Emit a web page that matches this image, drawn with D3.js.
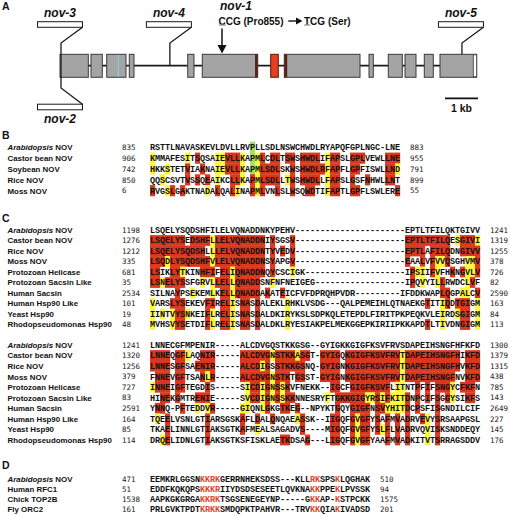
<!DOCTYPE html>
<html><head><meta charset="utf-8">
<script src="https://cdn.jsdelivr.net/npm/d3@7"></script>
<style>body{margin:0;background:#fff}svg{display:block}</style>
</head><body><svg id="c" width="510" height="516"></svg>
<script>
// ---------------- DATA ----------------
// Panel A: gene model (kb from gene start)
const exonKb = [[0,0.858],[0.939,1.282],[1.415,2.0],[2.1,2.242],[3.87,4.06],[4.312,5.991],[6.385,6.615],[6.797,9.091],[9.364,9.494],[9.948,10.373],[10.455,10.788],[11.039,11.312],[11.515,12.627]];
const exonType = ["g","g","g","g","g","g","r","g","g","g","g","g","g"];
const edgeMarksKb = [[5.91,5.991],[6.797,6.885]];
const cyanMarkKb = [1.767];
const utrKb = [[12.524,12.627]];
const insertNames = ["nov-3","nov-2","nov-4","nov-5"];
const insertKb = [0.03,0.03,3.33,12.18];
const insertSide = ["top","bottom","top","top"];
const nov1Kb = 4.909;
const scaleBarKb = [11.667,12.667];

// Panel B
const bNames = ["Arabidopsis NOV","Castor bean NOV","Soybean NOV","Rice NOV","Moss NOV"];
const bStarts = [835,906,742,850,6];
const bEnds = [883,955,791,899,55];
const bSeqs = [
 "RSTTLNAVASKEVLDVLLRVP"+"LLSDLNSWCHWDLRYAPQFGPLNGC-LNE",
 "KMMAFESITSQSAIEVLLKAP"+"MLCDLTSWSHWDLIFAPSLGPLVEWLLNE",
 "HKKSTETVIAKNAIEVLLKAP"+"MLSDLSKWSHWDLRFAPFLGPFISWLLND",
 "QQSCSVTVSSQEAIKCLLKAP"+"MLSDLLTWSHWDLLFAPSLGSFNHWLLNT",
 "RVGSLGAKTNADALQALINAP"+"MLVNLSLWSQWDTIFAPTLGPFLSWLERE"];
const bMasks = [
 ".........."+".........."+"g........."+".........."+"..........",
 "y......y.r"+"...yyrrry."+"gyr.rr.rr."+"rrrr.yrr.."+"rrr....rrr",
 "y..y...r.."+"r..yyrrry."+"gyrrrr..r."+"rrrrryrr.."+"rr.....rry",
 "..y....r.r"+".r.y..rry."+"ryrrrr.yr."+"rrrr.yrr.."+"r..r...rr.",
 "r..yr.r..."+".y.r..ry.."+"ryr..r..r."+".rr..yrr.."+"rr.......r"];

// Panel C
const cNames = ["Arabidopsis NOV","Castor bean NOV","Rice NOV","Moss NOV","Protozoan Helicase","Protozoan Sacsin Like","Human Sacsin","Human Hsp90 Like","Yeast Hsp90","Rhodopseudomonas Hsp90"];
const c1Starts = [1198,1276,1212,335,681,35,2534,101,19,48];
const c1Ends = [1241,1319,1255,378,726,82,2590,163,84,113];
const c1Seqs = [
 "LSQELYSQDSHFILELVQNADDNKYPEHV"+"----------"+"----------"+"--"+"EPTLTFILQKTGIVV",
 "LSQELYSEDSHFLLELVQNADDNIYSGSV"+"----------"+"----------"+"--"+"EPTLTFILQESGIVI",
 "LSQELYSQDSHLLLELVQNADDNTYVEDV"+"----------"+"----------"+"--"+"EPTLAFILQDNGIVV",
 "LSQDLYSQDSHFVLELVQNADDNSYAPGV"+"----------"+"----------"+"--"+"EAALVFVVQSGHVMV",
 "LSIKLYTKINHFIFELIQNADDNQYCSCIGK"+"----------"+"----------"+"IPSIIFVFHKNGVLV",
 "LSNELYSSFGRVLLELLQNADDSNFNFNEIGEG"+"----------"+"--------"+"IPQVYILLRWDCLVF",
 "SILNAYPSEKEMLKELLQNADDAKATEICFVFDPRQHPVDR"+"---------"+"IFDDKWAPLQGPALCV",
 "VARSLYSEKEVFIRELISNASDALEKLRHKLVSDG"+"---"+"QALPEMEIHLQTNAEKGTITIQDTGIGM",
 "IINTVYSNKEIFLRELISNASDALDKIRYKSLSDPKQLETEPDLFIRITPKPEQKVLEIRDSGIGM",
 "MVHSVYSETDIFLRELISNASDALDKLRYESIAKPELMEKGGEPKIRIIPKKAPDTLTIVDNGIGM"];
const c1Masks = [
 ".........."+".........."+".........."+".........."+".........."+".........."+"......",
 "rrrrrrr.rr"+"rryrrrrrrr"+"rrr.r...r."+".........."+".........."+".rrrrrrrrr"+".yrrry",
 "rrrrrrrrrr"+"r.yrrrrrrr"+"rrr.r.r.r."+".........."+".........."+".rrrr.rrrr"+"..rrrr",
 "rrryrrrrrr"+"rryrrrrrrr"+"rrr.r...r."+".........."+".........."+".r..r.ryyr"+"...yyr",
 "rr..rry..."+"rrr.rryrrr"+"rrr.r...y."+".........."+".........."+"..ryy.ry.."+"r.ryyr",
 "rryrrrr..."+"y.yrrryrrr"+"rr..y....."+".........."+".........."+"..r.y..yr."+"...yr.",
 ".....r..y."+"..y.rryrrr"+"rr.r..r..."+".........."+".........."+"........rr"+"..yy.r",
 "y...rrr..."+".rr.rry.rr"+".r.....y.."+".........."+".........."+".....r..yr"+".rrr.y",
 "y.y.yrry.."+".ry.rry.rr"+".r.....y.."+".........."+".........."+"........y."+".yrr.y",
 "y...yrr..."+".ry.rry.rr"+".r.....y.."+".........."+".........."+".....r..y."+"..rr.y"];
const c2Starts = [1241,1320,1256,379,727,83,2591,164,85,114];
const c2Ends = [1300,1379,1315,438,785,143,2649,227,145,176];
const c2Seqs = [
 "LNNECGFMPENIR-----ALCDVGQSTKKGSG--GYIGKKGIGFKSVFRVSDAPEIHSNGFHFKFD",
 "LNNEQGFLAQNIR-----ALCDVGNSTKKASGT-GYIGQKGIGFKSVFRVTDAPEIHSNGFHIKFD",
 "LNNESGFSAENIR-----ALCDIGSSTKKGSNQ-GYIGNKGIGFKSVFRVTDAPEIHSNGFHVKFD",
 "FNNEVGFTSANLR-----ALCDVGNSTKTGSST-GYIGNKGIGFKSVFRVTDAPEIHSNGFNVKFD",
 "INNEIGFTEGDIS-----SICDIGNSSKVFNEKK--IGCFGIGFKSVFLITNTPFIFSNGYCFKFN",
 "HINEKGMTRENIE-----SVCDIGNSSKKNNESRYFTGKKGIGYRSIFKITDNPCIFSGGYSIKFS",
 "YNNQ-PFTEDDVR-----GIQNLGKGTKEG--NPYKTGQYGIGFNSVYHITDCPSFISGNDILCIF",
 "TQEELVSNLGTIARSGSKAFLDALQNQAEASSK--IIGQFGVGFYSAFMVADRVEVYSRSAAPGSL",
 "TKAELINNLGTIAKSGTKAFMEALSAGADVS----MIGQFGVGFYSLFLVADRVQVISKSNDDEQY",
 "DRQELIDNLGTIAKSGTKSFISKLAETKDSAG---LIGQFGVGFYAAFMVADKITVTSRRAGSDDV"];
const c2Masks = [
 ".........."+".........."+".........."+".........."+".........."+".........."+"......",
 "rrrr.rry.."+"rrr.....rr"+"rrrryrrrry"+"rr..rrrr.r"+"rrrrrrrrrr"+"yrrrrrrrrr"+"rr.rrr",
 "rrrr.rr..r"+"rrr.....rr"+"rryr.rrrrr"+"r...rrrr.r"+"rrrrrrrrrr"+"yrrrrrrrrr"+"rr.rrr",
 ".rrr.rr..."+"ryr.....rr"+"rrrryrrr.r"+"r...rrrr.r"+"rrrrrrrrrr"+"yrrrrrrrrr"+"r..rrr",
 "yrrr.rr..."+".r.......y"+"rryryryr.."+"......rr.."+"rrrrrrrr.y"+"y..r.r.rrr"+"y.rrr.",
 "..rr.r...r"+"rr.......y"+"rryryryrr."+".....y.rrr"+"rrryyryryy"+"yr.r.r.r.r"+"y..rr.",
 ".rr...r..y"+".yr.....yy"+"..yr..rr.r"+".......r.."+"rrrr.rryyy"+"yr.r...r.."+"......",
 ".y.r......"+".r......r."+".r..r....y"+"r.....rr.."+"ryrr.r.r.r"+".r..ry.r.."+"......",
 "...r......"+".r......r."+".y........"+"r.....rr.."+"ryrr.ryr.r"+".r...y.r.."+"......",
 "..yr......"+".r........"+"......rr.."+".r....rr.."+"ryrr...r.r"+".r...y.r.."+"......"];

// Panel D
const dNames = ["Arabidopsis NOV","Human RFC1","Chick TOP2B","Fly ORC2"];
const dStarts = [471,51,1538,161];
const dEnds = [510,94,1575,201];
const dSeqs = [
 "EEMKRLGGSNKKRKGERRNHEKSDSS---KLLRKSPSKLQGHAK",
 "EDDFKQKQPSKKKRIIYDSDSESEETLQVKNAKKPPEKLPVSSK",
 "AAPKGKGRGAKKRKTSGSENEGEYNP-----GKKAP-KSTPCKK",
 "PRLGVKTPDTKRKKSMDQPKTPAHVR---TRVKKQIAKIVADSD"];
const dRedMask = "..........rrrr..................rr...r......";

// ---------------- DRAWING ----------------
const svg = d3.select("#c");
const SANS = "'Liberation Sans', Arial, Helvetica, sans-serif";
const MONO = "'Liberation Mono', 'Courier New', monospace";
const NUM = "'DejaVu Sans Mono', monospace";

// panel letters
const letters = [["A",9.5],["B",138.5],["C",221.7],["D",469.3]];
svg.selectAll("text.pl").data(letters).enter().append("text")
  .attr("x",2).attr("y",d=>d[1]).text(d=>d[0])
  .attr("font-family",SANS).attr("font-weight","bold").attr("font-size",10.5).attr("fill","#111");

// ---- Panel A ----
const kbX = d3.scaleLinear().domain([0,1]).range([60,93]);
const LINE_Y = 65.7, EX_TOP = 54.3, EX_H = 23;
const gA = svg.append("g");
gA.append("line").attr("x1",kbX(exonKb[0][0])).attr("x2",kbX(exonKb[exonKb.length-1][1]))
  .attr("y1",LINE_Y).attr("y2",LINE_Y).attr("stroke","#1a1a1a").attr("stroke-width",1.7);
gA.selectAll("rect.ex").data(exonKb).enter().append("rect")
  .attr("x",d=>kbX(d[0])).attr("width",d=>kbX(d[1])-kbX(d[0]))
  .attr("y",EX_TOP).attr("height",EX_H)
  .attr("fill",(d,i)=>exonType[i]==="r"?"#e2401f":"#a4a4a4")
  .attr("stroke",(d,i)=>exonType[i]==="r"?"#5e1a0e":"#3a3a3a").attr("stroke-width",1);
gA.selectAll("rect.em").data(edgeMarksKb).enter().append("rect")
  .attr("x",d=>kbX(d[0])).attr("width",d=>kbX(d[1])-kbX(d[0]))
  .attr("y",EX_TOP).attr("height",EX_H).attr("fill","#5a2216");
gA.selectAll("rect.utr").data(utrKb).enter().append("rect")
  .attr("x",d=>kbX(d[0])).attr("width",d=>kbX(d[1])-kbX(d[0]))
  .attr("y",EX_TOP+0.5).attr("height",EX_H-1).attr("fill","#fff").attr("stroke","#3a3a3a").attr("stroke-width",0.8);
gA.selectAll("line.cy").data(cyanMarkKb).enter().append("line")
  .attr("x1",d=>kbX(d)).attr("x2",d=>kbX(d)).attr("y1",EX_TOP+0.5).attr("y2",EX_TOP+EX_H-0.5)
  .attr("stroke","#7fd8e4").attr("stroke-width",1);

function inExon(k){return exonKb.some(e=>k>=e[0]&&k<=e[1]);}
insertNames.forEach((nm,i)=>{
  const x = kbX(insertKb[i]);
  const bw = 45, bh = 5.6;
  const bx = x - 23.5;
  const top = insertSide[i]==="top";
  const boxY = top ? 21.7 : 104.2;
  gA.append("rect").attr("x",bx).attr("y",boxY).attr("width",bw).attr("height",bh)
    .attr("fill","#fff").attr("stroke","#1a1a1a").attr("stroke-width",1);
  const geneY = (top && inExon(insertKb[i]) && insertKb[i]>1) ? EX_TOP : LINE_Y;
  const pts = top ? [[bx+bw,boxY+bh],[x,43],[x,geneY]] : [[x,LINE_Y],[x,88],[bx+bw,boxY]];
  gA.append("path").attr("d",d3.line()(pts)).attr("fill","none").attr("stroke","#1a1a1a").attr("stroke-width",1.3);
  gA.append("text").attr("x",bx+bw/2).attr("y",top?17.3:122.7).attr("text-anchor","middle")
    .attr("font-family",SANS).attr("font-weight","bold").attr("font-style","italic").attr("font-size",12)
    .attr("fill","#111").text(nm);
});
// nov-1
const x1 = kbX(nov1Kb);
gA.append("text").attr("x",x1-2).attr("y",10).attr("font-family",SANS).attr("font-weight","bold")
  .attr("font-style","italic").attr("font-size",12).attr("fill","#111").text("nov-1");
gA.append("line").attr("x1",x1).attr("x2",x1).attr("y1",28.5).attr("y2",46).attr("stroke","#111").attr("stroke-width",1.5);
gA.append("path").attr("d",`M${x1-4.5},45 L${x1+4.5},45 L${x1},53.5 Z`).attr("fill","#111");
gA.append("text").attr("x",218.5).attr("y",24.6).attr("font-family",SANS).attr("font-weight","bold")
  .attr("font-size",10).attr("fill","#111").text("CCG (Pro855)");
gA.append("line").attr("x1",288.3).attr("x2",297).attr("y1",21).attr("y2",21).attr("stroke","#111").attr("stroke-width",1.4);
gA.append("path").attr("d","M296,17.5 L296,24.5 L302.5,21 Z").attr("fill","#111");
gA.append("text").attr("x",304).attr("y",24.6).attr("font-family",SANS).attr("font-weight","bold")
  .attr("font-size",10).attr("fill","#111").text("TCG (Ser)");
gA.append("rect").attr("x",218.8).attr("y",24.4).attr("width",7).attr("height",1.3).attr("fill","#9a9a9a");
gA.append("rect").attr("x",304.2).attr("y",24.4).attr("width",6).attr("height",1.3).attr("fill","#9a9a9a");
// scale bar
gA.append("line").attr("x1",kbX(scaleBarKb[0])).attr("x2",kbX(scaleBarKb[1])).attr("y1",98.3).attr("y2",98.3)
  .attr("stroke","#111").attr("stroke-width",1.7);
gA.append("text").attr("x",(kbX(scaleBarKb[0])+kbX(scaleBarKb[1]))/2).attr("y",112.2).attr("text-anchor","middle")
  .attr("font-family",SANS).attr("font-weight","bold").attr("font-size",10.5).attr("fill","#111").text("1 kb");

// ---- Alignments ----
const colX = d3.scaleLinear().domain([0,1]).range([150,155]);
const shadeColor = {r:"#d9381e", y:"#fbf73a", g:"#9fe05e"};

function drawAlignment(names, starts, ends, seqs, masks, y0, step, opts={}) {
  const yS = d3.scaleLinear().domain([0,1]).range([y0, y0+step]);
  const g = svg.append("g");
  const ncol = seqs[0].length;
  const endX = colX(ncol) + 10;
  seqs.forEach((s,ri)=>{
    const yc = yS(ri);
    const m = masks ? masks[ri] : null;
    const cells = s.split("").map((ch,i)=>({ch,i,m: m ? m[i] : "."}));
    if (m) {
      g.selectAll(null).data(cells.filter(d=>shadeColor[d.m])).enter().append("rect")
        .attr("x",d=>colX(d.i)).attr("y",yc-step/2-0.15).attr("width",5.15).attr("height",step+0.3)
        .attr("fill",d=>shadeColor[d.m]);
    }
    g.selectAll(null).data(cells).enter().append("text")
      .attr("x",d=>colX(d.i)+2.5).attr("y",yc+2.9).attr("text-anchor","middle")
      .attr("font-family",MONO).attr("font-weight","bold").attr("font-size",8.5)
      .attr("fill",d=> (opts.redMask && opts.redMask[d.i]==="r") ? "#e2432a" : "#111")
      .text(d=>d.ch);
    // name
    const nt = g.append("text").attr("x",7.5).attr("y",yc+2.9).attr("font-family",SANS)
      .attr("font-weight","bold").attr("font-size",7.9).attr("fill","#111");
    const nm = names[ri];
    if (nm.startsWith("Arabidopsis ")) {
      nt.append("tspan").attr("font-style","italic").text("Arabidopsis");
      nt.append("tspan").text(nm.slice(11));
    } else nt.text(nm);
    g.append("text").attr("x",122).attr("y",yc+2.7).attr("font-family",NUM).attr("font-size",7.5)
      .attr("fill","#222").text(starts[ri]);
    g.append("text").attr("x",endX).attr("y",yc+2.7).attr("font-family",NUM).attr("font-size",7.5)
      .attr("fill","#222").text(ends[ri]);
  });
}

drawAlignment(bNames,bStarts,bEnds,bSeqs,bMasks,147.3,10.85);
drawAlignment(cNames,c1Starts,c1Ends,c1Seqs,c1Masks,230,10.5);
drawAlignment(cNames,c2Starts,c2Ends,c2Seqs,c2Masks,345,10.55);
drawAlignment(dNames,dStarts,dEnds,dSeqs,null,479.3,10,{redMask:dRedMask});
</script>
</body></html>
